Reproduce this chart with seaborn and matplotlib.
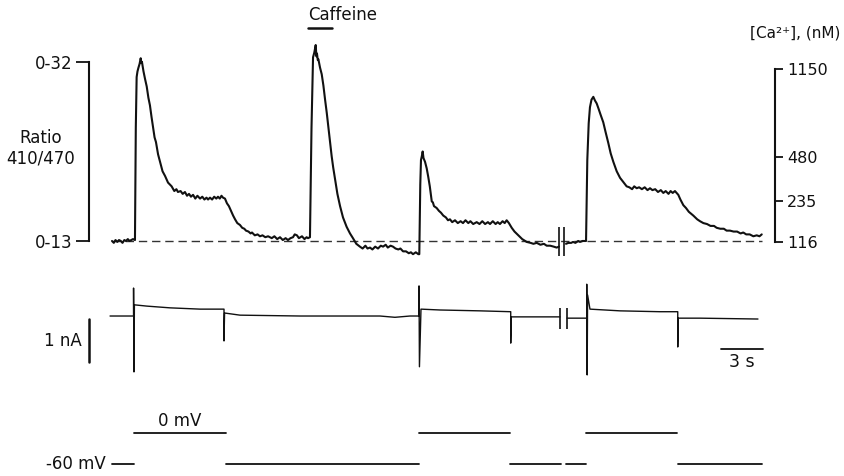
import numpy as np
import pandas as pd
import matplotlib
matplotlib.use("Agg")
import matplotlib.pyplot as plt
import seaborn as sns

# ---------------- data ----------------
# Fura ratio (410/470) trace, time in s; two segments around the break
ca_time_1 = [
    0.00, 0.13, 0.25, 0.38, 0.50, 0.63, 0.75, 0.88, 1.00, 1.13, 1.25, 1.38, 1.50, 1.64,
    1.70, 1.76, 1.82, 1.89, 1.97, 2.05, 2.10, 2.14,
    2.25, 2.36, 2.48, 2.60, 2.71, 2.82, 2.93, 3.04, 3.14, 3.29, 3.43, 3.61, 3.79, 4.00,
    4.26, 4.45, 4.60, 4.71, 4.90, 5.05, 5.21, 5.36, 5.50, 5.64, 5.79, 5.95, 6.10, 6.29,
    6.45, 6.60, 6.75, 6.86, 7.00, 7.15, 7.30, 7.45, 7.57, 7.70, 7.82, 7.93, 8.07, 8.21,
    8.35, 8.50, 8.65, 8.79, 8.95, 9.14, 9.30, 9.45, 9.57, 9.75, 9.90, 10.00, 10.20, 10.40,
    10.57, 10.75, 10.95, 11.15, 11.41, 11.60, 11.80, 12.00, 12.20, 12.40, 12.57, 12.75,
    12.93, 13.05, 13.21, 13.35, 13.57, 13.75, 13.90, 14.00, 14.14,
    14.25, 14.36, 14.45, 14.55, 14.60, 14.64, 14.70, 14.74,
    14.86, 14.98, 15.10, 15.22, 15.34, 15.46, 15.58, 15.69, 15.80, 15.93, 16.10, 16.29,
    16.50, 16.76, 17.00, 17.21, 17.45, 17.71, 17.90, 18.10, 18.25, 18.43, 18.60, 18.80,
    19.00, 19.20, 19.36, 19.55, 19.70, 19.90, 20.07, 20.25, 20.45, 20.60, 20.79, 21.00,
    21.20, 21.35, 21.50, 21.70, 21.88, 21.95,
    22.02, 22.07, 22.13, 22.19, 22.25, 22.36,
    22.48, 22.59, 22.70, 22.80, 22.84, 22.92, 23.00, 23.19, 23.35, 23.50, 23.66, 23.85,
    24.00, 24.14, 24.30, 24.50, 24.70, 24.90, 25.07, 25.25, 25.45, 25.60, 25.80, 26.05,
    26.25, 26.45, 26.65, 26.85, 27.00, 27.20, 27.40, 27.55, 27.71, 27.90, 28.05, 28.19,
    28.35, 28.55, 28.75, 29.02, 29.30, 29.62, 29.90, 30.10, 30.34, 30.60, 30.85, 31.05,
    31.30, 31.55, 31.76, 31.93]
ca_ratio_1 = [
    0.130, 0.128, 0.131, 0.129, 0.131, 0.130, 0.128, 0.131, 0.130, 0.132, 0.130, 0.131, 0.132, 0.131,
    0.250, 0.304, 0.310, 0.314, 0.318, 0.324, 0.319, 0.320,
    0.310, 0.302, 0.294, 0.282, 0.274, 0.262, 0.251, 0.240, 0.235, 0.222, 0.214, 0.204, 0.199, 0.192,
    0.188, 0.183, 0.185, 0.182, 0.183, 0.180, 0.182, 0.178, 0.180, 0.177, 0.179, 0.175, 0.178, 0.175,
    0.177, 0.174, 0.176, 0.174, 0.176, 0.174, 0.177, 0.175, 0.177, 0.175, 0.178, 0.176, 0.175, 0.170,
    0.167, 0.162, 0.157, 0.153, 0.149, 0.147, 0.144, 0.143, 0.141, 0.140, 0.138, 0.139, 0.136, 0.137,
    0.135, 0.136, 0.134, 0.135, 0.133, 0.135, 0.132, 0.134, 0.131, 0.133, 0.131, 0.133,
    0.134, 0.137, 0.136, 0.133, 0.135, 0.132, 0.134, 0.133, 0.134,
    0.250, 0.325, 0.330, 0.338, 0.326, 0.329, 0.322, 0.323,
    0.314, 0.307, 0.295, 0.280, 0.266, 0.250, 0.233, 0.220, 0.208, 0.196, 0.180, 0.167,
    0.155, 0.145, 0.138, 0.133, 0.127, 0.124, 0.122, 0.125, 0.122, 0.123, 0.121, 0.124,
    0.122, 0.125, 0.124, 0.126, 0.123, 0.125, 0.124, 0.122, 0.121, 0.122, 0.119, 0.119,
    0.117, 0.118, 0.116, 0.118, 0.116, 0.116,
    0.190, 0.216, 0.220, 0.225, 0.218, 0.214,
    0.207, 0.198, 0.188, 0.176, 0.172, 0.171, 0.167, 0.165, 0.162, 0.160, 0.157, 0.155,
    0.152, 0.153, 0.150, 0.152, 0.149, 0.151, 0.149, 0.152, 0.149, 0.151, 0.148, 0.150,
    0.148, 0.151, 0.148, 0.150, 0.148, 0.151, 0.148, 0.150, 0.148, 0.151, 0.149, 0.152,
    0.149, 0.144, 0.140, 0.136, 0.132, 0.129, 0.128, 0.127, 0.128, 0.126, 0.127, 0.125,
    0.125, 0.124, 0.123, 0.124]
ca_time_2 = [
    32.43, 32.60, 32.80, 32.93, 33.10, 33.30, 33.43, 33.60, 33.86,
    33.95, 34.05, 34.14, 34.25, 34.38, 34.50, 34.62,
    34.74, 34.90, 35.09, 35.25, 35.45, 35.62, 35.81, 36.05, 36.29, 36.50, 36.76, 36.95,
    37.15, 37.30, 37.48, 37.65, 37.85, 38.05, 38.25, 38.43, 38.60, 38.80, 39.00, 39.20,
    39.38, 39.55, 39.75, 39.90, 40.05, 40.21, 40.45, 40.60, 40.81, 41.00, 41.20, 41.52,
    41.80, 42.00, 42.24, 42.50, 42.75, 43.00, 43.19, 43.45, 43.70, 43.90, 44.14, 44.40,
    44.65, 44.90, 45.09, 45.30, 45.55, 45.81, 46.05, 46.25, 46.41]
ca_ratio_2 = [
    0.127, 0.128, 0.128, 0.129, 0.128, 0.130, 0.129, 0.130, 0.130,
    0.216, 0.255, 0.272, 0.280, 0.283, 0.279, 0.276,
    0.271, 0.264, 0.256, 0.246, 0.234, 0.223, 0.214, 0.204, 0.197, 0.193, 0.188, 0.187,
    0.185, 0.188, 0.186, 0.187, 0.185, 0.187, 0.184, 0.186, 0.184, 0.185, 0.182, 0.184,
    0.181, 0.183, 0.180, 0.183, 0.181, 0.183, 0.179, 0.174, 0.168, 0.165, 0.161, 0.157,
    0.153, 0.151, 0.149, 0.148, 0.146, 0.146, 0.144, 0.143, 0.143, 0.141, 0.141, 0.140,
    0.140, 0.138, 0.139, 0.137, 0.137, 0.135, 0.136, 0.135, 0.137]
ratio_ticks = [0.13, 0.32]
ratio_labels = ["0-13", "0-32"]
ca_tick_pos = [0.129, 0.172, 0.219, 0.313]
ca_tick_labels = ["116", "235", "480", "1150"]
baseline_ratio = 0.13
caffeine_on, caffeine_off = 14.0, 15.7

# Membrane current (nA)
cur_time_1 = [-0.14, 1.54, 1.54, 1.57, 1.60, 2.50, 4.14, 6.29, 8.00, 8.00, 8.04, 9.14, 13.43,
              19.14, 20.21, 21.29, 21.93, 21.93, 21.96, 22.07, 23.43, 26.29, 28.48, 28.48, 28.52,
              30.57, 32.00]
cur_na_1 = [0.00, 0.00, 0.65, -1.30, 0.26, 0.23, 0.19, 0.16, 0.16, -0.58, 0.07, 0.02, 0.00,
            0.00, -0.03, 0.00, 0.00, 0.70, -1.18, 0.16, 0.14, 0.12, 0.10, -0.63, -0.02,
            -0.02, -0.02]
cur_time_2 = [32.50, 33.91, 33.91, 33.94, 33.97, 34.14, 36.29, 39.14, 40.41, 40.41, 40.45,
              42.00, 46.14]
cur_na_2 = [-0.05, -0.05, 0.74, -1.37, 0.49, 0.16, 0.12, 0.10, 0.10, -0.72, -0.05, -0.05, -0.07]

# Voltage protocol (mV)
v_start = [0.00, 1.57, 8.14, 21.93, 28.43, 32.43, 33.86, 40.43]
v_end = [1.57, 8.14, 21.93, 28.43, 32.07, 33.86, 40.36, 46.43]
v_level = [-60, 0, -60, 0, -60, -60, 0, -60]

# Break positions and scale bars
ca_break_t = [31.95, 32.31]
cur_break_t = [32.00, 32.50]
scale_na = 1.0
scale_s = 3.0

assert len(ca_time_1) == len(ca_ratio_1)
assert len(ca_time_2) == len(ca_ratio_2)

# ---------------- figure ----------------
sns.set_theme(style="ticks")
plt.rcParams["font.family"] = ["DejaVu Sans"]
plt.rcParams["mathtext.default"] = "regular"

W, H = 845, 476
fig = plt.figure(figsize=(W / 100, H / 100), dpi=100)
fig.patch.set_facecolor("white")

XLIM = (-8.0, 52.357)
ax_ca = fig.add_axes([0, 1 - 270 / H, 1, 270 / H])
ax_i = fig.add_axes([0, 1 - 400 / H, 1, 130 / H])
ax_v = fig.add_axes([0, 0, 1, 76 / H])
for a in (ax_ca, ax_i, ax_v):
    a.set_xlim(*XLIM)
    a.set_facecolor("none")
    a.set_xticks([])

ink = "#111111"

# ---- calcium panel ----
ca_df = pd.DataFrame({
    "t": ca_time_1 + ca_time_2,
    "r": ca_ratio_1 + ca_ratio_2,
    "seg": [0] * len(ca_time_1) + [1] * len(ca_time_2),
})
ax_ca.set_ylim(0.0992, 0.3858)
ax_ca.hlines(baseline_ratio, ca_time_1[0], ca_time_2[-1], colors="#333333",
             linestyles=(0, (6, 3.5)), lw=1.0)
sns.lineplot(data=ca_df, x="t", y="r", units="seg", estimator=None, sort=False,
             color=ink, lw=1.5, ax=ax_ca, legend=False)
ax_ca.vlines(ca_break_t, 0.114, 0.145, colors=ink, lw=1.2)
ax_ca.plot([caffeine_on, caffeine_off], [0.356, 0.356], color=ink, lw=1.8)
ax_ca.text(16.5, 0.370, "Caffeine", ha="center", va="center", fontsize=12, color=ink)
ax_ca.text(-5.07, 0.2287, "Ratio\n410/470", ha="center", va="center", fontsize=12,
           color=ink, linespacing=1.15, multialignment="center")
ax_ca.set_xlabel("")
ax_ca.set_ylabel("")
for s in ("top", "bottom", "right"):
    ax_ca.spines[s].set_visible(False)
ax_ca.spines["left"].set_position(("data", -1.64))
ax_ca.spines["left"].set_bounds(ratio_ticks[0], ratio_ticks[-1])
ax_ca.spines["left"].set_linewidth(1.5)
ax_ca.spines["left"].set_color(ink)
ax_ca.set_yticks(ratio_ticks)
ax_ca.set_yticklabels(ratio_labels)
ax_ca.tick_params(axis="y", left=True, direction="out", length=9.4, width=1.3, pad=2.8,
                  labelsize=12, colors=ink)

ax_r = ax_ca.twinx()
ax_r.set_ylim(ax_ca.get_ylim())
ax_r.set_xlim(*XLIM)
for s in ("top", "bottom", "left"):
    ax_r.spines[s].set_visible(False)
ax_r.spines["right"].set_position(("data", 47.36))
ax_r.spines["right"].set_bounds(ca_tick_pos[0], ca_tick_pos[-1])
ax_r.spines["right"].set_linewidth(1.5)
ax_r.spines["right"].set_color(ink)
ax_r.set_yticks(ca_tick_pos)
ax_r.set_yticklabels(ca_tick_labels)
ax_r.tick_params(axis="y", right=True, direction="out", length=5.8, width=1.3, pad=3,
                 labelsize=11.5, colors=ink)
ax_r.set_xticks([])
ax_r.text(48.79, 0.3508, "[Ca²⁺], (nM)", ha="center", va="center", fontsize=11,
          color=ink)

# ---- current panel ----
cur_df = pd.DataFrame({
    "t": cur_time_1 + cur_time_2,
    "i": cur_na_1 + cur_na_2,
    "seg": [0] * len(cur_time_1) + [1] * len(cur_time_2),
})
ax_i.set_ylim(-1.953, 1.07)
sns.lineplot(data=cur_df, x="t", y="i", units="seg", estimator=None, sort=False,
             color=ink, lw=1.0, ax=ax_i, legend=False)
ax_i.vlines(cur_break_t, -0.30, 0.19, colors=ink, lw=1.2)
ax_i.plot([-1.64, -1.64], [-0.07, -0.07 - scale_na], color=ink, lw=1.8)
ax_i.text(-2.14, -0.58, "1 nA", ha="right", va="center", fontsize=12, color=ink)
ax_i.plot([43.5, 43.5 + scale_s], [-0.767, -0.767], color=ink, lw=1.3)
ax_i.text(45.0, -1.06, "3 s", ha="center", va="center", fontsize=12.5, color=ink)
ax_i.set_xlabel("")
ax_i.set_ylabel("")
ax_i.set_yticks([])
for s in ax_i.spines.values():
    s.set_visible(False)

# ---- voltage panel ----
v_rows = []
for k, (a, b, lv) in enumerate(zip(v_start, v_end, v_level)):
    v_rows.append({"t": a, "v": lv, "seg": k})
    v_rows.append({"t": b, "v": lv, "seg": k})
v_df = pd.DataFrame(v_rows)
ax_v.set_ylim(-83.23, 63.87)
sns.lineplot(data=v_df, x="t", y="v", units="seg", estimator=None, sort=False,
             color=ink, lw=1.3, ax=ax_v, legend=False)
ax_v.text(4.86, 5.2, "0 mV", ha="center", va="bottom", fontsize=12, color=ink)
ax_v.text(-0.43, -60, "-60 mV", ha="right", va="center", fontsize=12, color=ink)
ax_v.set_xlabel("")
ax_v.set_ylabel("")
ax_v.set_yticks([])
for s in ax_v.spines.values():
    s.set_visible(False)

fig.savefig("out.png", dpi=100, facecolor="white")
